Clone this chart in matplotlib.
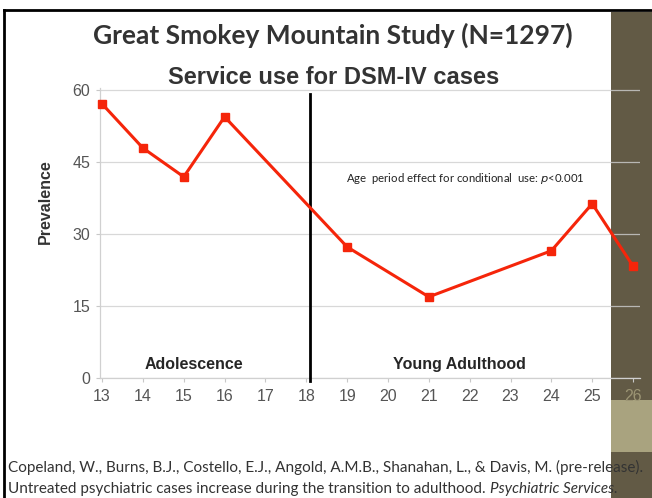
import matplotlib.pyplot as plt
from matplotlib.patches import Rectangle
from matplotlib.lines import Line2D

# Data
ages = [13, 14, 15, 16, 19, 21, 24, 25, 26]
prevalence = [57.1, 47.9, 41.9, 54.4, 27.3, 16.9, 26.5, 36.3, 23.3]
age_ticks = list(range(13, 27))
y_ticks = [0, 15, 30, 45, 60]
transition_age = 18.1

W, H = 652, 498
fig = plt.figure(figsize=(W / 100, H / 100), dpi=100)
fig.patch.set_facecolor('white')

# Slide decoration: dark band on the right and frame lines
fig.add_artist(Rectangle((611 / W, 0), 1 - 611 / W, 1 - 12 / H, transform=fig.transFigure,
                         facecolor='#625a45', edgecolor='none', zorder=0))
fig.add_artist(Rectangle((611 / W, 1 - 452 / H), 1 - 611 / W, 52 / H, transform=fig.transFigure,
                         facecolor='#a9a37f', edgecolor='none', zorder=0))
fig.add_artist(Line2D([4 / W, 1], [1 - 10 / H, 1 - 10 / H], transform=fig.transFigure,
                      color='black', lw=2))
fig.add_artist(Line2D([4 / W, 4 / W], [0, 1 - 10 / H], transform=fig.transFigure,
                      color='black', lw=2))

# Chart axes
left, right = 100 / W, 640 / W
bottom, top = 1 - 378 / H, 1 - 88 / H
ax = fig.add_axes([left, bottom, right - left, top - bottom])
ax.set_facecolor('none')
ax.set_xlim(12.95, 26.17)
ax.set_ylim(0, 60.4)

ax.plot(ages, prevalence, color='#f5250a', lw=2.2, marker='s', ms=6,
        markerfacecolor='#f5250a', markeredgecolor='#f5250a', zorder=4, clip_on=False)
ax.axvline(transition_age, ymin=-0.01, ymax=0.98, color='black', lw=2, zorder=3, clip_on=False)

ax.set_yticks(y_ticks)
ax.set_xticks(age_ticks)
ax.grid(axis='y', color='#cfcfcf', lw=0.9, alpha=0.8)
for s in ['top', 'right']:
    ax.spines[s].set_visible(False)
for s in ['left', 'bottom']:
    ax.spines[s].set_color('#d0d0d0')
    ax.spines[s].set_linewidth(0.9)
ax.tick_params(axis='both', colors='#c8c8c8', length=3, width=0.8, labelsize=11.5,
               labelcolor='#555555')
ax.tick_params(axis='x', pad=5)
ax.tick_params(axis='y', pad=4)
for lab in ax.get_xticklabels() + ax.get_yticklabels():
    lab.set_family('Liberation Sans')
ax.get_xticklabels()[-1].set_color('#9c9574')

fig.text(45 / W, 1 - 202 / H, 'Prevalence', fontsize=11.5, fontweight='bold',
         family='Liberation Sans', color='#333333', rotation=90, ha='center', va='center')

ax.text(15.25, 1.2, 'Adolescence', fontsize=11.5, fontweight='bold',
        family='Liberation Sans', color='#262626', ha='center', va='bottom')
ax.text(21.75, 1.2, 'Young Adulthood', fontsize=11.5, fontweight='bold',
        family='Liberation Sans', color='#262626', ha='center', va='bottom')
ax.text(18.97, 41.5, r'Age  period effect for conditional  use: $p$<0.001', fontsize=8.2,
        family='Lato', color='#222222', ha='left', va='center')

# Titles
fig.text(333 / W, 1 - 35 / H, 'Great Smokey Mountain Study (N=1297)', fontsize=19,
         fontweight='bold', family='Lato', color='#333333', ha='center', va='center')
fig.text(334 / W, 1 - 77 / H, 'Service use for DSM-IV cases', fontsize=17,
         fontweight='bold', family='Liberation Sans', color='#333333', ha='center', va='center')

# Citation footer
fig.text(8 / W, 1 - 467 / H,
         'Copeland, W., Burns, B.J., Costello, E.J., Angold, A.M.B., Shanahan, L., & Davis, M. (pre-release).',
         fontsize=11, family='Lato', color='#333333', ha='left', va='center')
t2 = fig.text(8 / W, 1 - 489 / H,
              'Untreated psychiatric cases increase during the transition to adulthood. ',
              fontsize=11, family='Lato', color='#333333', ha='left', va='center')
renderer = fig.canvas.get_renderer()
x_end = t2.get_window_extent(renderer).x1
fig.text(x_end / (W), 1 - 489 / H, 'Psychiatric Services.', fontsize=11, family='Lato',
         style='italic', color='#333333', ha='left', va='center')

fig.savefig('out.png', dpi=100)
